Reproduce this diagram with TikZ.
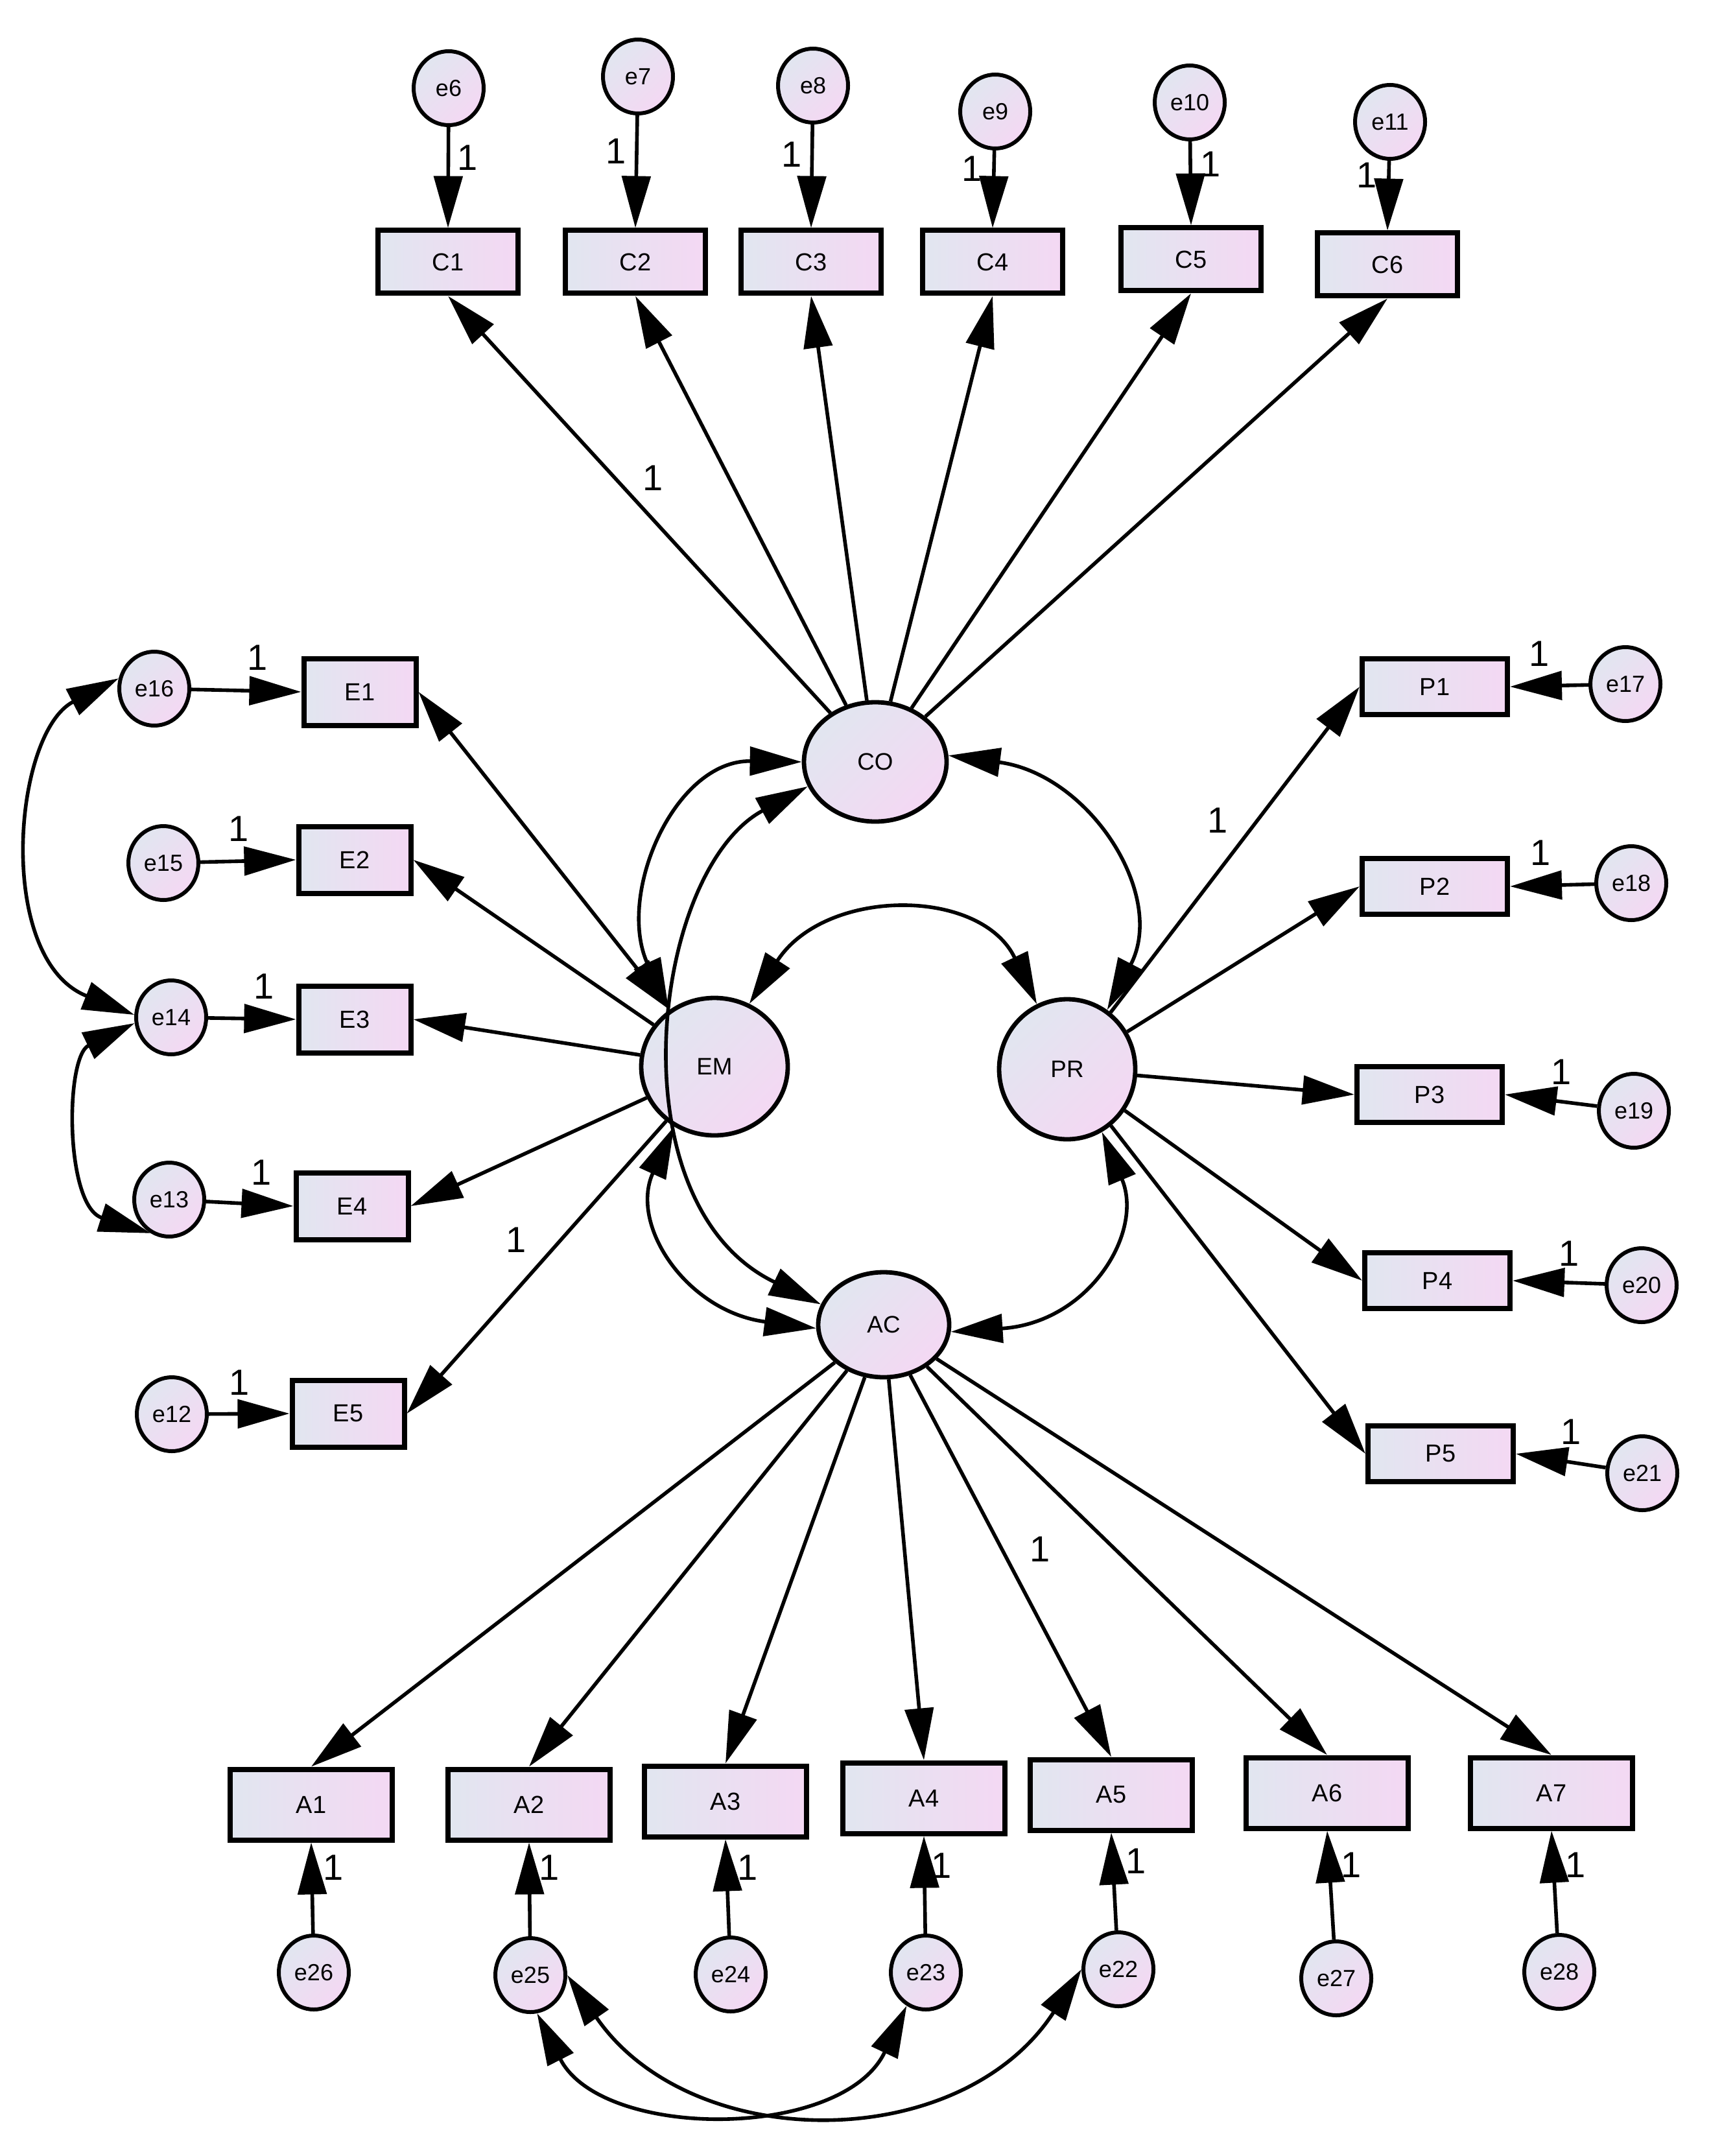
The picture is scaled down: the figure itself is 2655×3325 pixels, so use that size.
\documentclass[tikz,border=0pt]{standalone}
\usepackage{fontspec}
\setmainfont{Liberation Sans}
\usetikzlibrary{arrows.meta,shapes.geometric}
\definecolor{fillA}{RGB}{225,230,240}
\definecolor{fillB}{RGB}{244,216,243}
\tikzset{mytip/.tip={Triangle[length=20pt,width=11pt]}}
\begin{document}
\begin{tikzpicture}[x=0.25pt,y=-0.25pt,
  obs/.style={draw, line width=2pt, rectangle, inner sep=0, left color=fillA, right color=fillB, font=\fontsize{9.5}{10}\selectfont},
  cbox/.style={obs, minimum width=54pt, minimum height=24.25pt},
  ebox/.style={obs, minimum width=43.25pt, minimum height=25.75pt},
  pbox/.style={obs, minimum width=56pt, minimum height=21.5pt},
  abox/.style={obs, minimum width=62.5pt, minimum height=27.25pt},
  err/.style={draw, ellipse, line width=1.5pt, inner sep=0, minimum width=27pt, minimum height=28.5pt, top color=fillA, bottom color=fillB, shading angle=45, font=\fontsize{9}{10}\selectfont},
  lat/.style={draw, ellipse, line width=1.7pt, inner sep=0, top color=fillA, bottom color=fillB, shading angle=45, font=\fontsize{9.2}{10}\selectfont},
  one/.style={inner sep=0, font=\fontsize{14}{14}\selectfont},
  reg/.style={line width=1.4pt, -mytip},
  cov/.style={line width=1.4pt, mytip-mytip},
]
\path[use as bounding box, fill=white] (0,0) rectangle (2655,3325);

% latent variables
\node[lat, minimum width=55pt, minimum height=46pt] (CO) at (1350,1175) {CO};
\node[lat, minimum width=56.5pt, minimum height=53pt] (EM) at (1102,1645) {EM};
\node[lat, minimum width=52.5pt, minimum height=54pt] (PR) at (1646,1649) {PR};
\node[lat, minimum width=50.5pt, minimum height=40.5pt] (AC) at (1363,2043) {AC};

% top row
\node[err] (e6) at (692,136) {e6};
\node[err] (e7) at (984,118) {e7};
\node[err] (e8) at (1254,132) {e8};
\node[err] (e9) at (1535,172) {e9};
\node[err] (e10) at (1835,158) {e10};
\node[err] (e11) at (2144,188) {e11};
\node[cbox] (C1) at (691,404) {C1};
\node[cbox] (C2) at (980,404) {C2};
\node[cbox] (C3) at (1251,404) {C3};
\node[cbox] (C4) at (1531,404) {C4};
\node[cbox] (C5) at (1837,400) {C5};
\node[cbox] (C6) at (2140,408) {C6};

% left column
\node[err] (e16) at (238,1062) {e16};
\node[err] (e15) at (252,1331) {e15};
\node[err] (e14) at (264,1569) {e14};
\node[err] (e13) at (261,1850) {e13};
\node[err] (e12) at (265,2181) {e12};
\node[ebox] (E1) at (555,1067) {E1};
\node[ebox] (E2) at (547,1326) {E2};
\node[ebox] (E3) at (547,1572) {E3};
\node[ebox] (E4) at (543,1860) {E4};
\node[ebox] (E5) at (537,2180) {E5};

% right column
\node[pbox] (P1) at (2213,1059) {P1};
\node[pbox] (P2) at (2213,1367) {P2};
\node[pbox] (P3) at (2205,1688) {P3};
\node[pbox] (P4) at (2217,1975) {P4};
\node[pbox] (P5) at (2222,2242) {P5};
\node[err] (e17) at (2507,1055) {e17};
\node[err] (e18) at (2516,1362) {e18};
\node[err] (e19) at (2520,1713) {e19};
\node[err] (e20) at (2532,1982) {e20};
\node[err] (e21) at (2533,2272) {e21};

% bottom row
\node[abox] (A1) at (480,2783) {A1};
\node[abox] (A2) at (816,2783) {A2};
\node[abox] (A3) at (1119,2778) {A3};
\node[abox] (A4) at (1425,2773) {A4};
\node[abox] (A5) at (1714,2768) {A5};
\node[abox] (A6) at (2047,2765) {A6};
\node[abox] (A7) at (2393,2765) {A7};
\node[err] (e26) at (484,3042) {e26};
\node[err] (e25) at (818,3046) {e25};
\node[err] (e24) at (1127,3045) {e24};
\node[err] (e23) at (1428,3042) {e23};
\node[err] (e22) at (1725,3037) {e22};
\node[err] (e27) at (2061,3051) {e27};
\node[err] (e28) at (2405,3041) {e28};

% error paths
\draw[reg] (e6) -- (C1.north);
\draw[reg] (e7) -- (C2.north);
\draw[reg] (e8) -- (C3.north);
\draw[reg] (e9) -- (C4.north);
\draw[reg] (e10) -- (C5.north);
\draw[reg] (e11) -- (C6.north);
\draw[reg] (e16) -- (E1.west);
\draw[reg] (e15) -- (E2.west);
\draw[reg] (e14) -- (E3.west);
\draw[reg] (e13) -- (E4.west);
\draw[reg] (e12) -- (E5.west);
\draw[reg] (e17) -- (P1.east);
\draw[reg] (e18) -- (P2.east);
\draw[reg] (e19) -- (P3.east);
\draw[reg] (e20) -- (P4.east);
\draw[reg] (e21) -- (P5.east);
\draw[reg] (e26) -- (A1.south);
\draw[reg] (e25) -- (A2.south);
\draw[reg] (e24) -- (A3.south);
\draw[reg] (e23) -- (A4.south);
\draw[reg] (e22) -- (A5.south);
\draw[reg] (e27) -- (A6.south);
\draw[reg] (e28) -- (A7.south);

% loadings
\draw[reg] (CO) -- (C1.south);
\draw[reg] (CO) -- (C2.south);
\draw[reg] (CO) -- (C3.south);
\draw[reg] (CO) -- (C4.south);
\draw[reg] (CO) -- (C5.south);
\draw[reg] (CO) -- (C6.south);
\draw[cov] (EM) -- (E1.east);
\draw[reg] (EM) -- (E2.east);
\draw[reg] (EM) -- (E3.east);
\draw[reg] (EM) -- (E4.east);
\draw[reg] (EM) -- (E5.east);
\draw[reg] (PR) -- (P1.west);
\draw[reg] (PR) -- (P2.west);
\draw[reg] (PR) -- (P3.west);
\draw[reg] (PR) -- (P4.west);
\draw[reg] (PR) -- (P5.west);
\draw[reg] (AC) -- (A1.north);
\draw[reg] (AC) -- (A2.north);
\draw[reg] (AC) -- (A3.north);
\draw[reg] (AC) -- (A4.north);
\draw[reg] (AC) -- (A5.north);
\draw[reg] (AC) -- (A6.north);
\draw[reg] (AC) -- (A7.north);

% covariances
\draw[cov] (e16.164) .. controls (20,1130) and (-8,1480) .. (e14.176);
\draw[cov] (e14.189) .. controls (100,1630) and (100,1860) .. (e13.241);
\draw[cov] (EM.129) .. controls (950,1380) and (1040,1172) .. (CO.west);
\draw[cov] (CO.200) .. controls (1005,1342) and (944,1857) .. (AC.162);
\draw[cov] (EM.61) .. controls (1273,1368) and (1513,1368) .. (PR.115);
\draw[cov] (CO.5) .. controls (1680,1194) and (1800,1380) .. (PR.56);
\draw[cov] (EM.236) .. controls (970,1890) and (1060,2023) .. (AC.183);
\draw[cov] (PR.299) .. controls (1765,1900) and (1680,2040) .. (AC.354);
\draw[cov] (e25.280) .. controls (928,3301) and (1300,3301) .. (e23.240);
\draw[cov] (e25.east) .. controls (1066,3324) and (1482,3324) .. (e22.west);

% fixed parameter labels
\node[one] (l1) at (721,243) {1};
\node[one] (l2) at (950,233) {1};
\node[one] (l3) at (1221,238) {1};
\node[one] (l4) at (1499,260) {1};
\node[one] (l5) at (1867,253) {1};
\node[one] (l6) at (2108,270) {1};
\node[one] (l7) at (1007,737) {1};
\node[one] (l8) at (397,1014) {1};
\node[one] (l9) at (368,1278) {1};
\node[one] (l10) at (407,1521) {1};
\node[one] (l11) at (403,1808) {1};
\node[one] (l12) at (796,1912) {1};
\node[one] (l13) at (369,2132) {1};
\node[one] (l14) at (1878,1265) {1};
\node[one] (l15) at (2374,1008) {1};
\node[one] (l16) at (2376,1315) {1};
\node[one] (l17) at (2408,1653) {1};
\node[one] (l18) at (2420,1933) {1};
\node[one] (l19) at (2423,2208) {1};
\node[one] (l20) at (1604,2389) {1};
\node[one] (l21) at (514,2880) {1};
\node[one] (l22) at (847,2880) {1};
\node[one] (l23) at (1153,2880) {1};
\node[one] (l24) at (1452,2877) {1};
\node[one] (l25) at (1752,2870) {1};
\node[one] (l26) at (2084,2876) {1};
\node[one] (l27) at (2430,2876) {1};
\end{tikzpicture}
\end{document}
